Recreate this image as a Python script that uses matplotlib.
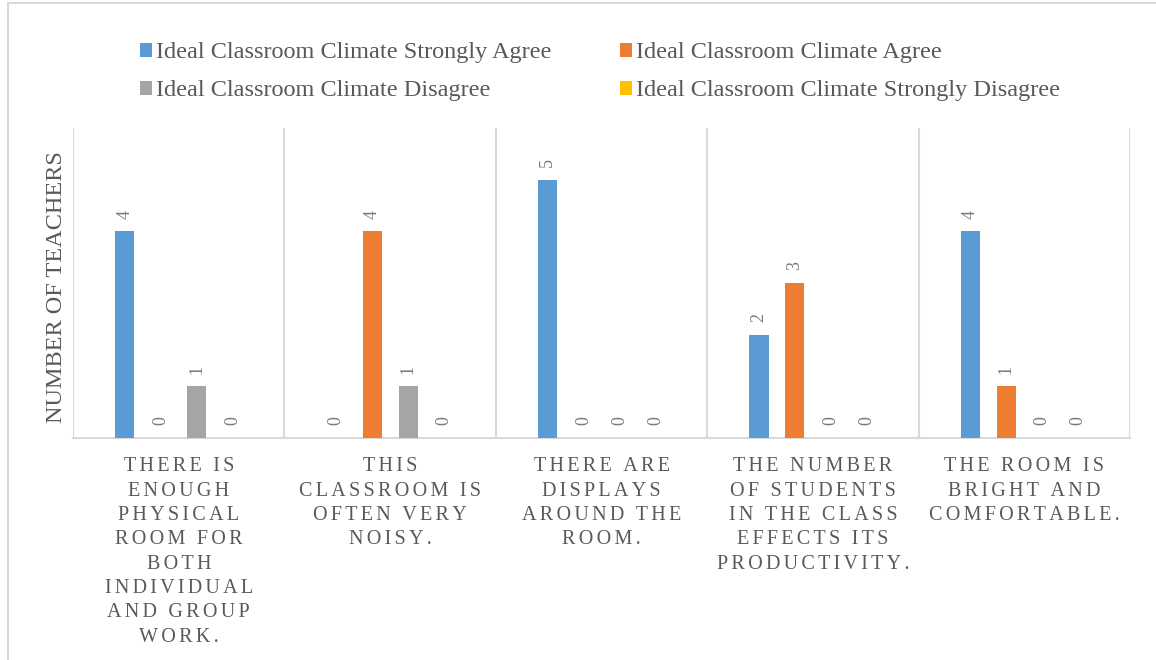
import matplotlib.pyplot as plt
import numpy as np
from matplotlib.patches import Patch, Rectangle

plt.rcParams['font.family'] = ['Liberation Serif', 'DejaVu Serif']

categories = [
    'THERE IS\nENOUGH\nPHYSICAL\nROOM FOR\nBOTH\nINDIVIDUAL\nAND GROUP\nWORK.',
    'THIS\nCLASSROOM IS\nOFTEN VERY\nNOISY.',
    'THERE ARE\nDISPLAYS\nAROUND THE\nROOM.',
    'THE NUMBER\nOF STUDENTS\nIN THE CLASS\nEFFECTS ITS\nPRODUCTIVITY.',
    'THE ROOM IS\nBRIGHT AND\nCOMFORTABLE.',
]
series_names = [
    'Ideal Classroom Climate Strongly Agree',
    'Ideal Classroom Climate Agree',
    'Ideal Classroom Climate Disagree',
    'Ideal Classroom Climate Strongly Disagree',
]
strongly_agree = [4, 0, 5, 2, 4]
agree = [0, 4, 0, 3, 1]
disagree = [1, 1, 0, 0, 0]
strongly_disagree = [0, 0, 0, 0, 0]

colors = ['#5B9BD5', '#ED7D31', '#A5A5A5', '#FFC000']
grid_color = '#D9D9D9'
text_color = '#595959'


def spaced(label, gap='\u200a\u200a'):
    # Excel-style character spacing for the category labels
    return '\n'.join(gap.join(line) for line in label.split('\n'))


fig = plt.figure(figsize=(11.56, 6.6), dpi=100)
ax = fig.add_axes([0.0632, 0.3364, 0.9143, 0.4697])

x = np.arange(len(categories))
offsets = np.array([-1.5, -0.5, 0.5, 1.5]) * 0.17
width = 0.09
for k, vals in enumerate([strongly_agree, agree, disagree, strongly_disagree]):
    bars = ax.bar(x + offsets[k], vals, width, color=colors[k], label=series_names[k], zorder=3)
    for rect, v in zip(bars, vals):
        ax.annotate(str(v), (rect.get_x() + rect.get_width() / 2, v),
                    xytext=(0, 9), textcoords='offset points', rotation=90,
                    ha='center', va='bottom', fontsize=13, color='#7a7a7a')

ax.set_xlim(-0.5, len(categories) - 0.5)
ax.set_ylim(0, 6)
for b in np.arange(-0.5, len(categories), 1.0):
    ax.axvline(b, color=grid_color, linewidth=1.5, zorder=1)

for s in ['top', 'right', 'left']:
    ax.spines[s].set_visible(False)
ax.spines['bottom'].set_color(grid_color)
ax.spines['bottom'].set_linewidth(1.5)
ax.set_yticks([])
ax.set_xticks(x)
ax.set_xticklabels([spaced(c) for c in categories], fontsize=14.5, color=text_color,
                   linespacing=1.38)
ax.tick_params(axis='x', length=0, pad=14)
ax.set_ylabel('NUMBER OF TEACHERS', fontsize=17.5, color=text_color)
ax.yaxis.set_label_coords(-0.0057, 0.487)

# legend fills column-wise, so order the entries to read across rows
order = [0, 2, 1, 3]
handles = [Patch(facecolor=colors[i]) for i in order]
fig.legend(handles, [series_names[i] for i in order], loc='upper left',
           bbox_to_anchor=(0.102, 0.969), ncol=2,
           frameon=False, fontsize=17.5, handlelength=0.5, handleheight=0.5,
           handletextpad=0.18, columnspacing=2.8, labelspacing=0.7,
           labelcolor=text_color)

fig.patches.append(Rectangle((8 / 1156, -0.1), 1.2, (660 - 3) / 660 + 0.1,
                             transform=fig.transFigure, fill=False,
                             edgecolor=grid_color, linewidth=1.5))

fig.savefig('out.png', dpi=100)
